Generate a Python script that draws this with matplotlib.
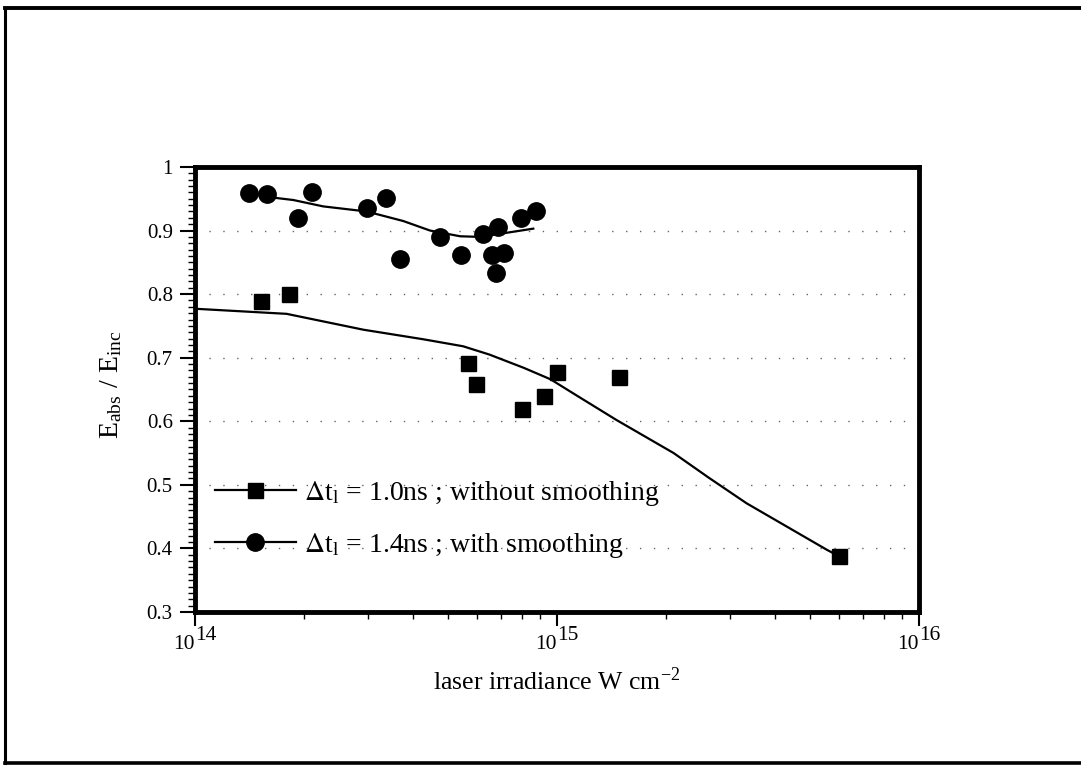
import numpy as np
import matplotlib
matplotlib.use("Agg")
import matplotlib.pyplot as plt
from matplotlib.lines import Line2D
from matplotlib.ticker import LogLocator, MultipleLocator, FixedLocator, NullFormatter

plt.rcParams['font.family'] = ['Liberation Serif', 'DejaVu Serif']
plt.rcParams['mathtext.fontset'] = 'stix'

# 无平滑 (Δt = 1.0ns) 的测量点
sq_x = [1.52e14, 1.82e14, 5.67e14, 5.97e14, 8.0e14, 9.2e14, 1.0e15, 1.48e15, 6.0e15]
sq_y = [0.789, 0.800, 0.691, 0.659, 0.619, 0.639, 0.678, 0.669, 0.388]

# 无平滑的拟合曲线
sq_fit_x = [1.0e14, 1.79e14, 2.92e14, 4.27e14, 5.5e14, 6.5e14, 8.1e14, 9.6e14,
            1.16e15, 1.46e15, 2.1e15, 2.63e15, 3.34e15, 5.56e15, 6.0e15]
sq_fit_y = [0.777, 0.769, 0.744, 0.729, 0.718, 0.705, 0.684, 0.666,
            0.637, 0.602, 0.550, 0.511, 0.471, 0.398, 0.388]

# 有平滑 (Δt = 1.4ns) 的测量点
ci_x = [1.41e14, 1.58e14, 1.92e14, 2.11e14, 2.99e14, 3.37e14, 3.68e14, 4.75e14,
        5.43e14, 6.26e14, 6.86e14, 6.61e14, 7.15e14, 6.77e14, 7.96e14, 8.75e14]
ci_y = [0.959, 0.957, 0.920, 0.960, 0.935, 0.951, 0.855, 0.890,
        0.861, 0.895, 0.906, 0.861, 0.865, 0.834, 0.919, 0.931]

# 有平滑的拟合曲线
ci_fit_x = [1.58e14, 1.87e14, 2.26e14, 2.98e14, 3.76e14, 4.46e14, 5.40e14, 6.13e14, 8.6e14]
ci_fit_y = [0.953, 0.948, 0.938, 0.930, 0.915, 0.900, 0.891, 0.890, 0.903]

y_ticks = [0.3, 0.4, 0.5, 0.6, 0.7, 0.8, 0.9, 1.0]
y_tick_labels = ['0.3', '0.4', '0.5', '0.6', '0.7', '0.8', '0.9', '1']
x_ticks = [1e14, 1e15, 1e16]
x_exponents = ['14', '15', '16']

fig = plt.figure(figsize=(10.81, 7.67), dpi=100)
ax = fig.add_axes([0.1804, 0.2021, 0.6697, 0.5802])

# 网格虚点线
for yv in y_ticks[1:-1]:
    ax.axhline(yv, color='k', lw=1.0, ls=(0, (1, 9)), alpha=0.6, zorder=1)

ax.plot(sq_fit_x, sq_fit_y, color='k', lw=1.6, zorder=2)
ax.plot(ci_fit_x, ci_fit_y, color='k', lw=1.6, zorder=2)
ax.plot(sq_x, sq_y, ls='none', marker='s', ms=10.8, color='k', zorder=3)
ax.plot(ci_x, ci_y, ls='none', marker='o', ms=12.5, color='k', zorder=3)

ax.set_xscale('log')
ax.set_xlim(1e14, 1e16)
ax.set_ylim(0.3, 1.0)

ax.xaxis.set_major_locator(FixedLocator(x_ticks))
ax.xaxis.set_major_formatter(NullFormatter())
ax.xaxis.set_minor_locator(LogLocator(base=10, subs=np.arange(2, 10)))
ax.xaxis.set_minor_formatter(NullFormatter())
ax.set_yticks(y_ticks)
ax.set_yticklabels(y_tick_labels)
ax.yaxis.set_minor_locator(MultipleLocator(0.01))

ax.tick_params(axis='y', which='major', direction='out', length=11, width=1.5, labelsize=15, pad=5)
ax.tick_params(axis='y', which='minor', direction='out', length=5, width=1.0)
ax.tick_params(axis='x', which='major', direction='out', length=10, width=1.5)
ax.tick_params(axis='x', which='minor', direction='out', length=5, width=1.0)

# 10 的幂次刻度标签，指数与底数字号相同
xt = ax.get_xaxis_transform()
for xv, ex in zip(x_ticks, x_exponents):
    ax.text(xv, -0.074, '10', transform=xt, ha='right', va='center', fontsize=15.5)
    ax.text(xv, -0.052, ex, transform=xt, ha='left', va='center', fontsize=15.5)

for sp in ax.spines.values():
    sp.set_linewidth(3.5)

ax.set_xlabel(r'laser irradiance W cm$^{\mathregular{-2}}$', fontsize=18.5, va='center')
ax.xaxis.set_label_coords(0.5, -0.155)
ax.set_ylabel(r'E$_{\mathregular{abs}}$ / E$_{\mathregular{inc}}$', fontsize=20, va='center')
ax.yaxis.set_label_coords(-0.115, 0.51)

handles = [
    Line2D([], [], color='k', lw=1.6, marker='s', ms=10.8),
    Line2D([], [], color='k', lw=1.6, marker='o', ms=12.5),
]
labels = [r'$\Delta$t$_{\mathregular{l}}$ = 1.0ns ; without smoothing',
          r'$\Delta$t$_{\mathregular{l}}$ = 1.4ns ; with smoothing']
ax.legend(handles, labels, loc='center left', bbox_to_anchor=(0.0276, 0.208),
          frameon=False, fontsize=20, handlelength=2.9, handletextpad=0.3,
          labelspacing=0.82, borderaxespad=0, borderpad=0)

# 外框
fig.add_artist(Line2D([0.005, 0.005], [0.005, 0.99], color='k', lw=2.2))
fig.add_artist(Line2D([0.005, 1.0], [0.99, 0.99], color='k', lw=2.8))
fig.add_artist(Line2D([0.005, 1.0], [0.005, 0.005], color='k', lw=2.6))

fig.savefig('out.png', dpi=100)
